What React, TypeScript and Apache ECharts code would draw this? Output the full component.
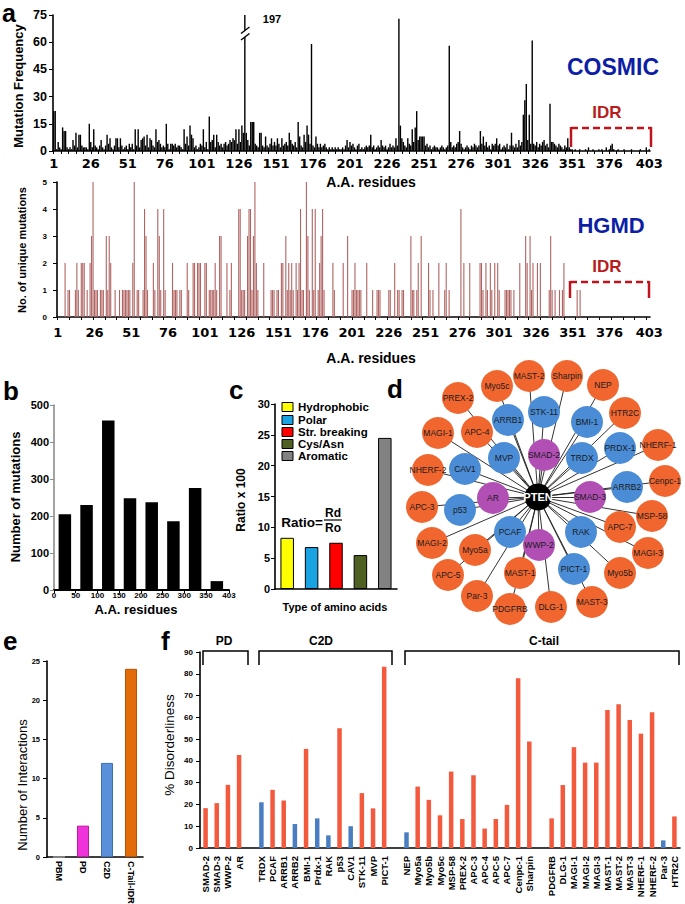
import React, { useEffect, useRef } from 'react';
import * as echarts from 'echarts';

const FONT = '"Liberation Sans", Arial, sans-serif';
const NARROW = '"Liberation Sans Narrow", "Liberation Sans", sans-serif';
const WIDE = '"DejaVu Sans", sans-serif';

// ---------- panel a ----------
const RESIDUES = Array.from({ length: 403 }, (_, i) => String(i + 1));
const AA_TICK_LABELS = [1, 26, 51, 76, 101, 126, 151, 176, 201, 226, 251, 276, 301, 326, 351, 376, 403];
const COSMIC_Y_MAX = 75;
const COSMIC_Y_STEP = 15;
const COSMIC_FREQ = [
  22, 22, 1, 5, 2, 1, 13, 11, 11, 2,
  1, 2, 1, 6, 3, 10, 2, 9, 9, 3,
  2, 2, 2, 1, 15, 5, 2, 12, 3, 2,
  1, 3, 6, 2, 1, 3, 9, 4, 7, 2,
  1, 3, 7, 7, 2, 7, 3, 1, 2, 3,
  1, 4, 2, 4, 1, 12, 3, 12, 2, 6,
  7, 8, 3, 9, 2, 7, 6, 3, 2, 12,
  5, 6, 4, 2, 3, 2, 15, 4, 1, 4,
  4, 3, 4, 2, 3, 3, 2, 1, 12, 4,
  8, 3, 14, 9, 7, 2, 3, 1, 2, 4,
  3, 12, 2, 5, 1, 19, 5, 6, 9, 2,
  9, 5, 3, 4, 2, 4, 5, 3, 4, 6,
  5, 7, 6, 12, 4, 12, 5, 14, 10, 197,
  10, 6, 3, 16, 16, 16, 4, 3, 2, 10,
  10, 3, 2, 8, 3, 2, 4, 7, 3, 5,
  3, 7, 4, 2, 7, 3, 4, 5, 3, 10,
  6, 4, 3, 5, 2, 16, 8, 3, 2, 9,
  5, 14, 9, 4, 59, 3, 2, 8, 4, 2,
  4, 2, 3, 4, 2, 1, 2, 1, 2, 1,
  2, 1, 2, 1, 1, 2, 1, 3, 6, 2,
  5, 3, 4, 2, 1, 3, 4, 1, 2, 1,
  2, 3, 2, 3, 9, 2, 3, 1, 2, 3,
  2, 6, 3, 2, 3, 1, 2, 4, 2, 3,
  2, 7, 3, 73, 14, 7, 5, 3, 2, 7,
  4, 3, 12, 5, 13, 22, 6, 8, 8, 8,
  8, 3, 4, 2, 3, 1, 2, 3, 2, 2,
  1, 2, 3, 2, 1, 2, 3, 58, 5, 2,
  3, 2, 4, 5, 11, 4, 2, 1, 2, 3,
  2, 1, 3, 2, 4, 3, 2, 3, 11, 4,
  8, 3, 5, 2, 3, 1, 4, 3, 4, 7,
  3, 4, 1, 2, 3, 2, 4, 1, 3, 10,
  3, 2, 4, 2, 6, 3, 5, 20, 28, 37,
  6, 20, 4, 61, 4, 3, 5, 2, 4, 3,
  5, 6, 3, 4, 2, 26, 5, 5, 4, 3,
  2, 4, 3, 2, 1, 3, 2, 7, 2, 1,
  1, 0, 1, 0, 0, 1, 0, 0, 0, 1,
  0, 2, 0, 0, 1, 0, 0, 0, 1, 0,
  1, 0, 0, 2, 0, 1, 3, 4, 1, 0,
  0, 1, 0, 0, 0, 1, 0, 0, 0, 0,
  1, 0, 0, 0, 0, 0, 1, 0, 0, 0,
  2, 0, 1,
];
// HGMD: [residue, number of unique mutations]
const HGMD_SITES: [number, number][] = [
  [6, 2], [8, 1], [9, 1], [13, 1], [14, 2], [15, 1], [17, 2], [18, 2], [19, 2], [21, 1], [23, 2], [24, 3], [25, 5],
  [26, 1], [27, 1], [28, 1], [30, 1], [31, 1], [32, 1], [34, 3], [35, 1], [36, 3], [37, 2], [40, 1], [43, 1], [45, 1],
  [46, 1], [47, 1], [48, 1], [49, 1], [50, 1], [52, 2], [53, 5], [55, 1], [56, 1], [59, 1], [60, 4], [61, 3], [62, 1],
  [66, 2], [67, 1], [69, 4], [70, 3], [71, 1], [73, 4], [74, 1], [79, 2], [80, 1], [81, 1], [82, 1], [84, 1], [85, 1],
  [89, 2], [90, 1], [93, 2], [94, 2], [96, 2], [97, 2], [98, 2], [101, 2], [102, 2], [104, 1], [105, 1], [106, 1],
  [107, 1], [108, 2], [109, 1], [111, 3], [112, 3], [116, 2], [118, 1], [119, 2], [124, 4], [125, 4], [126, 1],
  [127, 1], [128, 1], [130, 3], [131, 4], [132, 4], [133, 1], [134, 3], [135, 5], [136, 2], [137, 1], [141, 2],
  [146, 1], [147, 1], [148, 1], [150, 1], [151, 1], [153, 2], [154, 2], [156, 3], [157, 1], [158, 2], [159, 1],
  [160, 2], [161, 1], [163, 2], [164, 1], [165, 2], [166, 4], [167, 1], [168, 1], [170, 5], [171, 3], [172, 1],
  [174, 4], [175, 1], [176, 4], [178, 1], [179, 2], [180, 3], [181, 4], [182, 1], [188, 2], [189, 1], [195, 2],
  [198, 3], [201, 1], [202, 1], [203, 2], [204, 1], [205, 1], [206, 1], [207, 1], [211, 2], [215, 1], [218, 1],
  [219, 1], [220, 1], [226, 1], [227, 1], [230, 2], [232, 1], [233, 1], [235, 1], [236, 1], [241, 3], [242, 1],
  [243, 1], [245, 1], [246, 2], [248, 3], [253, 2], [254, 1], [256, 1], [260, 2], [264, 1], [265, 2], [267, 1],
  [275, 4], [277, 2], [281, 2], [288, 2], [289, 2], [290, 1], [292, 2], [293, 1], [295, 2], [296, 1], [298, 2],
  [300, 2], [301, 1], [305, 1], [306, 1], [307, 1], [308, 1], [309, 1], [311, 1], [315, 2], [319, 3], [320, 2],
  [322, 3], [323, 1], [324, 2], [327, 2], [329, 2], [335, 1], [336, 3], [337, 1], [339, 1], [342, 1], [344, 1],
  [345, 2], [354, 1], [356, 1],
];

// ---------- panel b ----------
const B_BIN_CENTERS = [25, 75, 125, 175, 225, 275, 325, 375];
const B_COUNTS = [205, 230, 458, 248, 237, 186, 276, 24];
const B_X_LABELS = [0, 50, 100, 150, 200, 250, 300, 350, 403];

// ---------- panel c ----------
const C_TYPES = ['Hydrophobic', 'Polar', 'Str. breaking', 'Cys/Asn', 'Aromatic'];
const C_RATIOS = [8.3, 6.8, 7.5, 5.5, 24.5];
const C_COLORS = ['#ffff00', '#19a3e3', '#ff0000', '#4e6123', '#828282'];

// ---------- panel d ----------
const D_NODES: { name: string; kind: string; x: number; y: number }[] = [
  { name: 'MAST-2', kind: 'o', x: 529, y: 376 }, { name: 'Sharpin', kind: 'o', x: 567, y: 376 },
  { name: 'Myo5c', kind: 'o', x: 497, y: 386 }, { name: 'NEP', kind: 'o', x: 603, y: 385 },
  { name: 'PREX-2', kind: 'o', x: 458, y: 398 }, { name: 'HTR2C', kind: 'o', x: 625, y: 413 },
  { name: 'MAGI-1', kind: 'o', x: 438, y: 433 }, { name: 'APC-4', kind: 'o', x: 477, y: 432 },
  { name: 'NHERF-1', kind: 'o', x: 658, y: 445 }, { name: 'NHERF-2', kind: 'o', x: 428, y: 470 },
  { name: 'Cenpc-1', kind: 'o', x: 665, y: 481 }, { name: 'APC-3', kind: 'o', x: 422, y: 507 },
  { name: 'MSP-58', kind: 'o', x: 652, y: 516 }, { name: 'APC-7', kind: 'o', x: 620, y: 527 },
  { name: 'MAGI-2', kind: 'o', x: 432, y: 543 }, { name: 'Myo5a', kind: 'o', x: 475, y: 550 },
  { name: 'MAGI-3', kind: 'o', x: 648, y: 553 }, { name: 'APC-5', kind: 'o', x: 448, y: 575 },
  { name: 'Myo5b', kind: 'o', x: 620, y: 573 }, { name: 'MAST-1', kind: 'o', x: 520, y: 573 },
  { name: 'Par-3', kind: 'o', x: 477, y: 596 }, { name: 'MAST-3', kind: 'o', x: 592, y: 602 },
  { name: 'PDGFRB', kind: 'o', x: 510, y: 609 }, { name: 'DLG-1', kind: 'o', x: 551, y: 607 },
  { name: 'STK-11', kind: 'b', x: 544, y: 412 }, { name: 'ARRB1', kind: 'b', x: 508, y: 420 },
  { name: 'BMI-1', kind: 'b', x: 587, y: 422 }, { name: 'MVP', kind: 'b', x: 504, y: 458 },
  { name: 'TRDX', kind: 'b', x: 582, y: 458 }, { name: 'PRDX-1', kind: 'b', x: 620, y: 448 },
  { name: 'CAV1', kind: 'b', x: 465, y: 469 }, { name: 'ARRB2', kind: 'b', x: 627, y: 487 },
  { name: 'p53', kind: 'b', x: 460, y: 510 }, { name: 'PCAF', kind: 'b', x: 510, y: 532 },
  { name: 'RAK', kind: 'b', x: 581, y: 532 }, { name: 'PICT-1', kind: 'b', x: 574, y: 569 },
  { name: 'SMAD-2', kind: 'p', x: 544, y: 455 }, { name: 'SMAD-3', kind: 'p', x: 590, y: 497 },
  { name: 'AR', kind: 'p', x: 493, y: 498 }, { name: 'WWP-2', kind: 'p', x: 539, y: 545 },
  { name: 'PTEN', kind: 'hub', x: 538, y: 497 },
];
const D_KIND_COLORS: Record<string, string> = { o: '#f1662f', b: '#4a8cd6', p: '#b14fb4', hub: '#000000' };

// ---------- panel e ----------
const E_DOMAINS = ['PBM', 'PD', 'C2D', 'C-Tail-IDR'];
const E_INTERACTIONS = [0, 4, 12, 24];
const E_COLORS = ['#999999', '#f032dc', '#5a8fd9', '#e36c0a'];
const E_BORDERS = ['#999999', '#c0189f', '#3d6fb8', '#b85200'];

// ---------- panel f ----------
const F_PARTNERS = ['SMAD-2', 'SMAD-3', 'WWP-2', 'AR', ' ', 'TRDX', 'PCAF', 'ARRB1', 'ARRB2', 'BMI-1', 'Prdx-1', 'RAK',
  'p53', 'CAV1', 'STK-11', 'MVP', 'PICT-1', '  ', 'NEP', 'Myo5a', 'Myo5b', 'Myo5c', 'MSP-58', 'PREX-2', 'APC-3', 'APC-4',
  'APC-5', 'APC-7', 'Cenpc-1', 'Sharpin', '   ', 'PDGFRB', 'DLG-1', 'MAGI-1', 'MAGI-2', 'MAGI-3', 'MAST-1', 'MAST-2',
  'MAST-3', 'NHERF-1', 'NHERF-2', 'Par-3', 'HTR2C'];
const F_DISORDER: (number | null)[] = [18.3, 20.6, 29, 42.7, null, 21, 26.7, 21.8, 11, 45.5, 13.6, 5.8, 55, 10, 25.2,
  18.2, 83.2, null, 7.2, 28.2, 22.1, 15, 35.1, 13.3, 33.4, 8.9, 13.3, 19.8, 77.9, 48.9, null, 13.6, 28.9, 46.3, 39.2,
  39.2, 63.4, 66, 58.8, 52.5, 62.3, 3.5, 14.5];
const F_ORDERED = ['TRDX', 'ARRB2', 'Prdx-1', 'RAK', 'CAV1', 'NEP', 'Par-3'];

function txt(x: number, y: number, text: string, size: number, o: any = {}) {
  return {
    type: 'text', x, y, rotation: o.rot || 0, silent: true, z: 100,
    style: {
      text, fill: o.color || '#000', fontSize: size, fontWeight: o.weight || 'bold',
      fontFamily: o.family || FONT, align: o.align || 'center', verticalAlign: 'middle',
      textAlign: o.align || 'center', textVerticalAlign: 'middle',
    },
  };
}
function poly(points: number[][], stroke: string, lineWidth: number, dash?: number[]) {
  return {
    type: 'polyline', silent: true, z: 100, shape: { points },
    style: { stroke, lineWidth, fill: null, lineDash: dash || null },
  };
}

export default function App() {
  const ref = useRef<HTMLDivElement>(null);
  useEffect(() => {
    if (!ref.current) return;
    const chart = echarts.init(ref.current, undefined, { renderer: 'svg' });
    const labelSet = new Set(AA_TICK_LABELS);
    const hgmdMap = new Map(HGMD_SITES.map(([r, c]) => [r, c]));
    const hgmdFull = RESIDUES.map((_, i) => hgmdMap.get(i + 1) ?? 0);
    const black = { color: '#000' };

    const aaX = (gi: number, tickEvery: number, margin: number) => ({
      gridIndex: gi, type: 'category', data: RESIDUES, boundaryGap: true,
      axisLine: { show: true, lineStyle: { color: '#000', width: 1.6 } },
      axisTick: { show: true, alignWithLabel: true, interval: (i: number) => i % tickEvery === 0, length: 3, lineStyle: black },
      axisLabel: {
        interval: (i: number) => labelSet.has(i + 1), margin, fontFamily: WIDE, fontWeight: 'bold',
        fontSize: 13, color: '#000',
      },
      splitLine: { show: false },
    });
    const valY = (gi: number, min: number, max: number, step: number, size: number, margin: number, fam = FONT, axisColor = '#000') => ({
      gridIndex: gi, type: 'value', min, max, interval: step,
      axisLine: { show: true, lineStyle: { color: axisColor, width: 1.6 } },
      axisTick: { show: true, length: 4, lineStyle: { color: axisColor } },
      axisLabel: { margin, fontFamily: fam, fontWeight: 'bold', fontSize: size, color: '#000' },
      splitLine: { show: false },
    });

    const graphNodes = D_NODES.map((n) => ({
      name: n.name, x: n.x, y: n.y,
      symbolSize: n.kind === 'hub' ? 27 : 32,
      itemStyle: { color: D_KIND_COLORS[n.kind] },
      label: n.kind === 'hub'
        ? { color: '#fff', fontSize: 11, fontWeight: 'bold' }
        : undefined,
    }));
    const graphLinks = D_NODES.filter((n) => n.kind !== 'hub').map((n) => ({ source: 'PTEN', target: n.name }));

    const red = '#c0141c';
    const g: any[] = [];
    // panel letters
    g.push(txt(2, 12.5, 'a', 25, { align: 'left' }));
    g.push(txt(3, 391, 'b', 26, { align: 'left' }));
    g.push(txt(229, 390, 'c', 26, { align: 'left' }));
    g.push(txt(387, 389, 'd', 26, { align: 'left' }));
    g.push(txt(3, 641, 'e', 26, { align: 'left' }));
    g.push(txt(161, 641, 'f', 26, { align: 'left' }));
    // panel a annotations
    g.push(txt(272, 19, '197', 11));
    g.push({ type: 'polygon', silent: true, z: 100, shape: { points: [[241, 33.5], [249.5, 27], [249.5, 33.5], [241, 40]] }, style: { fill: '#fff' } });
    g.push(poly([[241, 33.5], [249.5, 27]], '#000', 1.4));
    g.push(poly([[241, 40], [249.5, 33.5]], '#000', 1.4));
    g.push(txt(613, 67, 'COSMIC', 23, { color: '#0d1ea6' }));
    g.push(txt(607, 112, 'IDR', 17, { color: '#b81c1c' }));
    g.push(poly([[571, 128], [651, 128]], red, 2.5, [7, 4]));
    g.push(poly([[571, 127], [571, 147]], red, 2.5));
    g.push(poly([[651, 127], [651, 147]], red, 2.5));
    g.push(txt(611, 225, 'HGMD', 22, { color: '#0d1ea6' }));
    g.push(txt(607, 266, 'IDR', 17, { color: '#b81c1c' }));
    g.push(poly([[570, 282], [649, 282]], red, 2.5, [7, 4]));
    g.push(poly([[570, 281], [570, 298]], red, 2.5));
    g.push(poly([[649, 281], [649, 298]], red, 2.5));
    g.push(txt(371, 182, 'A.A. residues', 14));
    g.push(txt(371, 358, 'A.A. residues', 14));
    g.push(txt(18, 86, 'Mutation Frequency', 13, { rot: Math.PI / 2, family: NARROW }));
    g.push(txt(22, 250, 'No. of unique mutations', 11, { rot: Math.PI / 2 }));
    // panel b
    g.push(txt(136, 609, 'A.A. residues', 13));
    g.push(txt(15, 497, 'Number of mutations', 13, { rot: Math.PI / 2 }));
    // panel c
    g.push(txt(335, 607, 'Type of amino acids', 11));
    g.push(txt(241, 500, 'Ratio x 100', 12, { rot: Math.PI / 2 }));
    const legY = [407, 420, 432, 444, 456];
    C_TYPES.forEach((t, i) => {
      g.push({ type: 'rect', silent: true, z: 100, shape: { x: 282, y: legY[i] - 4.5, width: 11, height: 9 }, style: { fill: C_COLORS[i], stroke: '#000', lineWidth: 1 } });
      g.push(txt(298, legY[i], t, 11.5, { align: 'left' }));
    });
    g.push(txt(323, 522, 'Ratio=', 13.5, { align: 'right' }));
    g.push(txt(333, 513, 'Rd', 12));
    g.push(poly([[324, 520], [342, 520]], '#000', 1.2));
    g.push(txt(333, 527.5, 'Ro', 12));
    // panel e
    g.push(txt(22, 785, 'Number of Interactions', 13, { rot: Math.PI / 2, weight: 'normal' }));
    // panel f
    g.push(txt(169, 745, '% Disorderliness', 13.5, { rot: Math.PI / 2, weight: 'normal' }));
    g.push(poly([[203, 665], [203, 651], [248, 651], [248, 665]], '#000', 1.5));
    g.push(poly([[259, 665], [259, 651], [392, 651], [392, 665]], '#000', 1.5));
    g.push(poly([[405, 665], [405, 651], [679, 651], [679, 665]], '#000', 1.5));
    g.push(txt(224, 641, 'PD', 12));
    g.push(txt(321, 641, 'C2D', 12));
    g.push(txt(544, 641, 'C-tail', 12));

    const option: any = {
      animation: false,
      backgroundColor: '#ffffff',
      textStyle: { fontFamily: FONT },
      grid: [
        { left: 53, top: 15, width: 597, height: 136, outerBoundsMode: 'none' },
        { left: 57, top: 182, width: 593, height: 135, outerBoundsMode: 'none' },
        { left: 54, top: 405, width: 175, height: 185, outerBoundsMode: 'none' },
        { left: 275, top: 404, width: 122, height: 185, outerBoundsMode: 'none' },
        { left: 47, top: 661, width: 96, height: 196, outerBoundsMode: 'none' },
        { left: 200, top: 652, width: 480, height: 196, outerBoundsMode: 'none' },
      ],
      xAxis: [
        aaX(0, 5, 6),
        aaX(1, 8, 9),
        {
          gridIndex: 2, type: 'value', min: 0, max: 403, interval: 50,
          axisLine: { show: true, lineStyle: { color: '#000', width: 2 } },
          axisTick: { show: true, length: 3, customValues: B_X_LABELS, lineStyle: black },
          axisLabel: { customValues: B_X_LABELS, margin: 1, fontSize: 8, fontWeight: 'bold', color: '#000', fontFamily: FONT },
          splitLine: { show: false },
        },
        {
          gridIndex: 3, type: 'category', data: C_TYPES,
          axisLine: { show: true, lineStyle: { color: '#000', width: 1.6 } },
          axisTick: { show: false }, axisLabel: { show: false }, splitLine: { show: false },
        },
        {
          gridIndex: 4, type: 'category', data: E_DOMAINS,
          axisLine: { show: true, lineStyle: { color: '#000', width: 1.6 } },
          axisTick: { show: false },
          axisLabel: { rotate: -90, interval: 0, margin: 4, fontSize: 9, fontWeight: 'bold', color: '#000', fontFamily: FONT },
          splitLine: { show: false },
        },
        {
          gridIndex: 5, type: 'category', data: F_PARTNERS,
          axisLine: { show: true, lineStyle: { color: '#000', width: 1.6 } },
          axisTick: { show: false },
          axisLabel: { rotate: 90, interval: 0, margin: 8, fontSize: 9.5, fontWeight: 'bold', color: '#000', fontFamily: FONT },
          splitLine: { show: false },
        },
      ],
      yAxis: [
        valY(0, 0, COSMIC_Y_MAX, COSMIC_Y_STEP, 12.5, 6, NARROW),
        valY(1, 0, 5, 1, 8, 10),
        valY(2, 0, 500, 100, 11, 5, FONT, '#8c8c8c'),
        valY(3, 0, 30, 5, 11, 5),
        valY(4, 0, 25, 5, 7.5, 7),
        valY(5, 0, 90, 10, 8, 7),
      ],
      series: [
        {
          type: 'bar', xAxisIndex: 0, yAxisIndex: 0, data: COSMIC_FREQ, silent: true,
          barCategoryGap: '5%', itemStyle: { color: '#000' },
        },
        {
          type: 'bar', xAxisIndex: 1, yAxisIndex: 1, data: hgmdFull, silent: true,
          barWidth: 1.1, itemStyle: { color: '#b06462' },
        },
        {
          type: 'bar', xAxisIndex: 2, yAxisIndex: 2, silent: true, barWidth: 12.5,
          data: B_BIN_CENTERS.map((c, i) => [c, B_COUNTS[i]]), itemStyle: { color: '#000' },
        },
        {
          type: 'bar', xAxisIndex: 3, yAxisIndex: 3, silent: true, barWidth: 13.5,
          data: C_RATIOS.map((v, i) => ({ value: v, itemStyle: { color: C_COLORS[i], borderColor: '#000', borderWidth: 1 } })),
        },
        {
          type: 'bar', xAxisIndex: 4, yAxisIndex: 4, silent: true, barWidth: 12,
          data: E_INTERACTIONS.map((v, i) => ({ value: v, itemStyle: { color: E_COLORS[i], borderColor: E_BORDERS[i], borderWidth: 1 } })),
        },
        {
          type: 'bar', xAxisIndex: 5, yAxisIndex: 5, silent: true, barWidth: 4.5,
          data: F_DISORDER.map((v, i) => ({
            value: v == null ? '-' : v,
            itemStyle: { color: F_ORDERED.includes(F_PARTNERS[i]) ? '#4a7ec2' : '#f2593d' },
          })),
        },
        {
          type: 'graph', layout: 'none', left: 422, top: 376, width: 243, height: 233,
          roam: false, silent: true, symbol: 'circle', emphasis: { disabled: true },
          label: { show: true, position: 'inside', fontSize: 8.5, color: '#1a1a1a', fontFamily: FONT },
          lineStyle: { color: '#1b1b1b', width: 0.9, opacity: 1, curveness: 0 },
          data: graphNodes, links: graphLinks,
        },
      ],
      graphic: { elements: g },
    };
    chart.setOption(option);
    return () => chart.dispose();
  }, []);
  return <div ref={ref} style={{ position: 'fixed', left: 0, top: 0, width: 685, height: 904, background: '#fff' }} />;
}
